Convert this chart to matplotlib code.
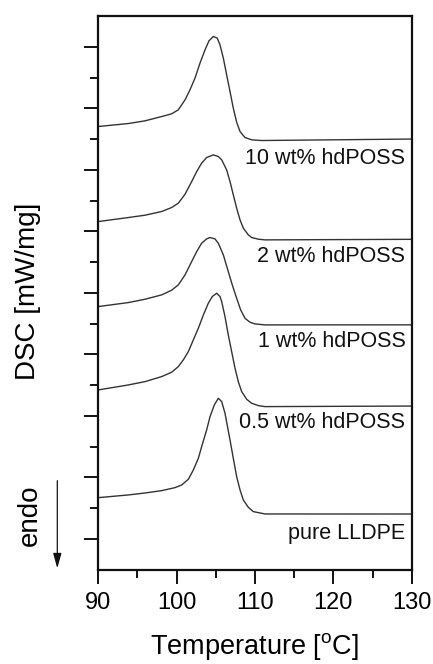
import matplotlib
matplotlib.use("Agg")
import matplotlib.pyplot as plt
from matplotlib.ticker import MultipleLocator

plt.rcParams['font.family'] = ['Liberation Sans', 'DejaVu Sans']
plt.rcParams['mathtext.fontset'] = 'custom'
plt.rcParams['mathtext.rm'] = 'Liberation Sans'

# Data (temperature in °C, DSC signal in offset units)
t_10 = [90, 93.83, 95.96, 98.09, 99.36, 100.21, 101.07, 101.70, 102.34, 102.98, 103.62, 104.13,
        104.68, 105.19, 105.53, 105.96, 106.38, 106.81, 107.23, 107.66, 108.09, 108.72, 109.58,
        110.85, 130]
y_10 = [7.204, 7.252, 7.296, 7.366, 7.410, 7.475, 7.637, 7.800, 7.990, 8.234, 8.450, 8.597,
        8.667, 8.640, 8.532, 8.315, 8.044, 7.773, 7.502, 7.274, 7.122, 7.025, 6.987,
        6.976, 7.00]

t_2 = [90, 93.83, 95.96, 98.09, 99.36, 100.21, 101.07, 101.92, 102.56, 103.19, 103.83, 104.68,
       105.32, 105.75, 106.38, 106.81, 107.23, 107.66, 108.09, 108.51, 109.15, 109.58, 110.43,
       111.28, 130]
y_2 = [5.659, 5.724, 5.762, 5.822, 5.887, 5.957, 6.103, 6.309, 6.472, 6.608, 6.700, 6.743,
       6.716, 6.662, 6.499, 6.309, 6.093, 5.876, 5.686, 5.551, 5.442, 5.399, 5.372,
       5.361, 5.37]

t_1 = [90, 93.83, 95.96, 98.09, 99.36, 100.21, 101.07, 101.92, 102.56, 103.19, 103.83, 104.26,
       104.89, 105.32, 105.96, 106.59, 107.10, 107.66, 108.17, 108.72, 109.36, 110.00, 111.28, 130]
y_1 = [4.277, 4.342, 4.396, 4.467, 4.543, 4.629, 4.792, 5.009, 5.171, 5.307, 5.377, 5.399,
       5.377, 5.307, 5.117, 4.846, 4.629, 4.412, 4.223, 4.087, 4.022, 3.995, 3.979, 3.98]

t_05 = [90, 93.83, 95.96, 98.09, 99.36, 100.21, 100.85, 101.49, 102.13, 102.77, 103.41, 104.04,
        104.55, 105.11, 105.53, 105.75, 106.17, 106.59, 107.02, 107.45, 107.87, 108.30, 108.94,
        109.58, 110.43, 111.28, 130]
y_05 = [2.922, 3.003, 3.057, 3.139, 3.209, 3.301, 3.410, 3.545, 3.735, 3.925, 4.141, 4.331,
        4.440, 4.494, 4.440, 4.358, 4.114, 3.816, 3.545, 3.274, 3.057, 2.895, 2.770,
        2.705, 2.667, 2.651, 2.66]

t_pure = [90, 93.83, 95.96, 98.09, 99.79, 100.64, 101.49, 102.13, 102.77, 103.19, 103.83, 104.26,
          104.81, 105.32, 105.75, 106.17, 106.81, 107.23, 107.66, 108.09, 108.51, 109.15, 109.79,
          111.28, 130]
y_pure = [1.171, 1.215, 1.247, 1.285, 1.334, 1.377, 1.469, 1.621, 1.811, 2.000, 2.272, 2.488,
          2.678, 2.787, 2.732, 2.543, 2.109, 1.811, 1.513, 1.296, 1.133, 1.014, 0.944,
          0.906, 0.905]

labels = ['10 wt% hdPOSS', '2 wt% hdPOSS', '1 wt% hdPOSS', '0.5 wt% hdPOSS', 'pure LLDPE']
label_y = [6.69, 5.09, 3.71, 2.39, 0.59]

series_t = [t_10, t_2, t_1, t_05, t_pure]
series_y = [y_10, y_2, y_1, y_05, y_pure]

W, H = 433, 664
fig = plt.figure(figsize=(W / 100, H / 100), dpi=100)
ax = fig.add_axes([98.3 / W, 1 - 569.7 / H, 313.4 / W, 553.7 / H])

for t, y in zip(series_t, series_y):
    ax.plot(t, y, color='#333333', lw=1.0, solid_joinstyle='round')

for lab, ly in zip(labels, label_y):
    ax.text(129.2, ly, lab, ha='right', va='center', fontsize=15.5, color='#111111')

ax.set_xlim(90, 130)
ax.set_ylim(0, 9)
ax.xaxis.set_major_locator(MultipleLocator(10))
ax.xaxis.set_minor_locator(MultipleLocator(5))
ax.set_yticks([0.5 + i for i in range(9)])
ax.set_yticks([float(i) for i in range(1, 9)], minor=True)
ax.set_yticklabels([])
ax.tick_params(axis='both', which='major', direction='out', length=10, width=1.4, color='#111111')
ax.tick_params(axis='both', which='minor', direction='out', length=6, width=1.4, color='#111111')
ax.tick_params(axis='x', which='major', labelsize=17, pad=6)
ax.tick_params(top=False, right=False)
for s in ax.spines.values():
    s.set_linewidth(1.6)
    s.set_color('#111111')

fig.text(255 / W, 1 - 647 / H, 'Temperature [$^{\\mathrm{o}}$C]', ha='center', va='center', fontsize=19.5)
fig.text(28 / W, 1 - 291 / H, 'DSC [mW/mg]', ha='center', va='center', rotation=90, fontsize=20)
fig.text(30 / W, 1 - 515 / H, 'endo', ha='center', va='center', rotation=90, fontsize=20)
ax.annotate('', xy=(57.3 / W, 1 - 568.3 / H), xytext=(57.3 / W, 1 - 480.7 / H),
            xycoords='figure fraction', textcoords='figure fraction',
            arrowprops=dict(arrowstyle='-|>,head_length=0.9,head_width=0.25', color='#111111', lw=0.9,
                            shrinkA=0, shrinkB=0))

fig.savefig('out.png', dpi=100)
